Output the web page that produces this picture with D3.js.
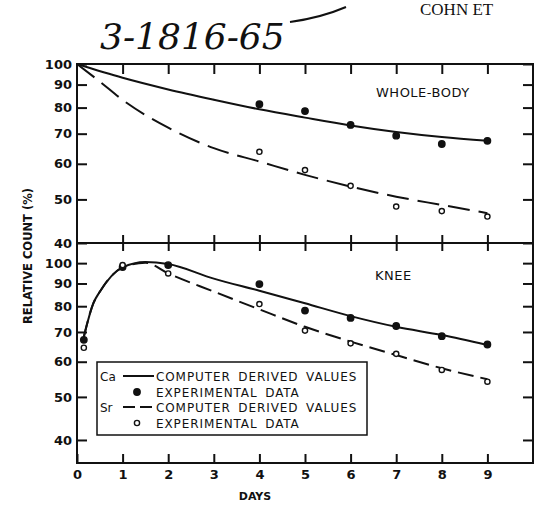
<!DOCTYPE html>
<html>
<head>
<meta charset="utf-8">
<script src="https://cdn.jsdelivr.net/npm/d3@7"></script>
<style>
  body { margin:0; background:#fff; }
  svg text { font-family: "DejaVu Sans", sans-serif; fill:#111; }
</style>
</head>
<body>
<div id="gt"></div>
<script>
// data (relative count %, log axis)
var pointDays = [4,5,6,7,8,9];
var wbCaPoints = [81.4,78.6,73.2,69.3,66.4,67.5];
var wbSrPoints = [63.8,58.1,53.6,48.2,47.1,45.8];
var wbCaDays = [0,1,2,3,4,5,6,7,8,9];
var wbCaCurve = [100,93.2,87.8,83.3,79.3,76.0,73.0,70.6,68.8,67.5];
var wbSrDays = [0,0.5,1,2,3,4,5,6,7,8,9];
var wbSrCurve = [100,91.4,83.2,72.2,65.0,60.7,56.7,53.4,50.7,48.6,46.6];

var kneePointDays = [0.15,1,2,4,5,6,7,8,9];
var kneeCaPoints = [67.2,98,99,89.7,78.2,75.3,72.2,68.5,65.6];
var kneeSrPoints = [64.5,99,94.8,80.9,70.5,66,62.5,57.5,54.1];
var kneeDays = [0.15,0.36,0.5,1,1.5,2,3,4,5,6,7,8,9];
var kneeCaCurve = [68.3,81.3,86.2,97.8,100.6,99.5,92.3,86.7,81.2,76.0,71.9,68.9,65.4];
var kneeSrCurve = [68.3,81.3,86.2,97.8,100.2,94.8,86.3,78.7,71.9,66.6,62.1,58.0,54.8];

var dayTicks = [0,1,2,3,4,5,6,7,8,9];
var yTicks = [40,50,60,70,80,90,100];

var W = 545, H = 506;
var L = 77, R = 533, T = 64, MID = 243, B = 463;

var svg = d3.select("#gt").append("svg")
    .attr("width", W).attr("height", H);

var x = d3.scaleLinear().domain([0,10]).range([L,R]);
var yTop = d3.scaleLog().domain([40,100]).range([MID,T]);
var yBot = d3.scaleLog().domain([35.5,111]).range([B,MID]);

// scribbles at the top of the scan
svg.append("text")
    .attr("x", 100).attr("y", 49)
    .style("font-family", "'DejaVu Serif', serif")
    .style("font-style", "italic")
    .style("font-size", "36px")
    .text("3-1816-65");
svg.append("path")
    .attr("d", "M290,22 C312,19 332,13 346,7")
    .attr("fill","none").attr("stroke","#111").attr("stroke-width",2);
svg.append("text")
    .attr("x", 420).attr("y", 15)
    .style("font-family", "'Liberation Serif', serif")
    .style("font-size", "17px")
    .text("COHN ET");

// frame
svg.append("rect")
    .attr("x", L).attr("y", T).attr("width", R-L).attr("height", B-T)
    .attr("fill","none").attr("stroke","#111").attr("stroke-width",2);
svg.append("line")
    .attr("x1", L).attr("x2", R).attr("y1", MID).attr("y2", MID)
    .attr("stroke","#111").attr("stroke-width",2);

function styleAxis(g) {
    g.select(".domain").remove();
    g.selectAll(".tick line").attr("stroke","#111").attr("stroke-width",2);
    g.selectAll(".tick text").style("font-size","12px").style("font-weight","bold");
}

var fmt = d3.format("d");

// y axes, ticks point inward
svg.append("g").attr("transform","translate(" + L + ",0)")
    .call(d3.axisLeft(yTop).tickValues(yTicks).tickFormat(fmt).tickSize(-10).tickPadding(5))
    .call(styleAxis);
svg.append("g").attr("transform","translate(" + L + ",0)")
    .call(d3.axisLeft(yBot).tickValues(yTicks).tickFormat(fmt).tickSize(-10).tickPadding(5))
    .call(styleAxis);
svg.append("g").attr("transform","translate(" + R + ",0)")
    .call(d3.axisRight(yTop).tickValues(yTicks).tickFormat("").tickSize(-10))
    .call(styleAxis);
svg.append("g").attr("transform","translate(" + R + ",0)")
    .call(d3.axisRight(yBot).tickValues(yTicks).tickFormat("").tickSize(-10))
    .call(styleAxis);

// x ticks on top, middle and bottom lines
var inner = dayTicks.slice(1);
svg.append("g").attr("transform","translate(0," + T + ")")
    .call(d3.axisTop(x).tickValues(inner).tickFormat("").tickSize(-10))
    .call(styleAxis);
svg.append("g").attr("transform","translate(0," + (MID+8) + ")")
    .call(d3.axisTop(x).tickValues(inner).tickFormat("").tickSize(16))
    .call(styleAxis);
svg.append("g").attr("transform","translate(0," + B + ")")
    .call(d3.axisBottom(x).tickValues(dayTicks).tickFormat(fmt).tickSize(-9).tickPadding(7))
    .call(styleAxis);
svg.selectAll(".tick text").style("font-size","13px");

// axis titles
svg.append("text")
    .attr("x", 255).attr("y", 500)
    .attr("text-anchor","middle")
    .style("font-size","11px").style("font-weight","bold")
    .text("DAYS");
svg.append("text")
    .attr("transform","translate(32,256) rotate(-90)")
    .attr("text-anchor","middle")
    .style("font-size","11.5px").style("font-weight","bold")
    .text("RELATIVE COUNT (%)");

// panel labels
svg.append("text").attr("x", 376).attr("y", 97)
    .style("font-size","13px").style("letter-spacing","0.5px")
    .text("WHOLE-BODY");
svg.append("text").attr("x", 375).attr("y", 280)
    .style("font-size","13px").style("letter-spacing","0.5px")
    .text("KNEE");

function drawCurve(days, vals, yScale, dash) {
    var line = d3.line()
        .x(function(d, i) { return x(days[i]); })
        .y(function(d) { return yScale(d); })
        .curve(d3.curveMonotoneX);
    svg.append("path")
        .attr("d", line(vals))
        .attr("fill","none")
        .attr("stroke","#111")
        .attr("stroke-width",2)
        .attr("stroke-dasharray", dash);
}

function drawPoints(days, vals, yScale, filled) {
    svg.append("g").selectAll("circle")
        .data(vals)
        .enter()
        .append("circle")
        .attr("cx", function(d, i) { return x(days[i]); })
        .attr("cy", function(d) { return yScale(d); })
        .attr("r", filled ? 3.2 : 2.6)
        .attr("fill", filled ? "#111" : "#fff")
        .attr("stroke","#111")
        .attr("stroke-width", 1.4);
}

drawCurve(wbCaDays, wbCaCurve, yTop, null);
drawCurve(wbSrDays, wbSrCurve, yTop, "22,9");
drawPoints(pointDays, wbCaPoints, yTop, true);
drawPoints(pointDays, wbSrPoints, yTop, false);

drawCurve(kneeDays, kneeCaCurve, yBot, null);
drawCurve(kneeDays, kneeSrCurve, yBot, "16,7");
drawPoints(kneePointDays, kneeCaPoints, yBot, true);
drawPoints(kneePointDays, kneeSrPoints, yBot, false);

// legend
var lg = svg.append("g");
lg.append("rect")
    .attr("x", 97).attr("y", 362).attr("width", 270).attr("height", 73)
    .attr("fill","#fff").attr("stroke","#111").attr("stroke-width",1.5);
var legendRows = [
    {key:"Ca", label:"COMPUTER DERIVED VALUES", kind:"solid", y:376},
    {key:"", label:"EXPERIMENTAL  DATA", kind:"filled", y:392},
    {key:"Sr", label:"COMPUTER DERIVED VALUES", kind:"dash", y:407},
    {key:"", label:"EXPERIMENTAL  DATA", kind:"open", y:423}
];
legendRows.forEach(function(r) {
    lg.append("text").attr("x", 100).attr("y", r.y + 4.5)
        .style("font-size","12px").text(r.key);
    lg.append("text").attr("x", 156).attr("y", r.y + 4.5)
        .style("font-size","12px")
        .style("letter-spacing","0.9px")
        .style("word-spacing","3px")
        .text(r.label);
    if (r.kind == "solid" || r.kind == "dash") {
        lg.append("line")
            .attr("x1", 123).attr("x2", 154).attr("y1", r.y).attr("y2", r.y)
            .attr("stroke","#111").attr("stroke-width",2)
            .attr("stroke-dasharray", r.kind == "dash" ? "12,5" : null);
    } else {
        lg.append("circle").attr("cx", 137).attr("cy", r.y)
            .attr("r", r.kind == "filled" ? 3.2 : 2.6)
            .attr("fill", r.kind == "filled" ? "#111" : "#fff")
            .attr("stroke","#111").attr("stroke-width",1.4);
    }
});
</script>
</body>
</html>
